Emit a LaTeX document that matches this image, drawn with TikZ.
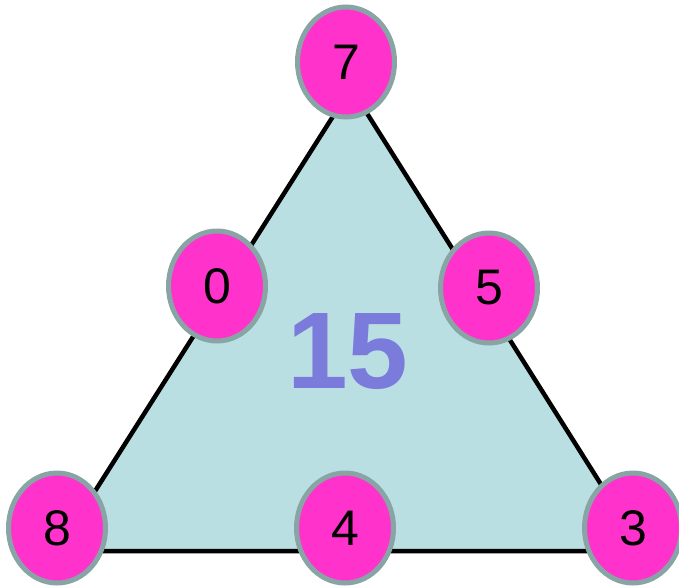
\documentclass[tikz,border=0pt]{standalone}
\usepackage{fontspec}
\setmainfont{Liberation Sans}
\usetikzlibrary{shapes.geometric}

\definecolor{tamgiac}{HTML}{BADFE3}
\definecolor{hong}{HTML}{FF33CC}
\definecolor{vien}{HTML}{88A4A4}
\definecolor{tongso}{HTML}{7B7BDB}

\tikzset{
  so/.style={ellipse, draw=vien, line width=5pt, fill=hong,
    minimum width=97pt, minimum height=110pt, inner sep=0pt,
    font=\fontsize{50}{50}\selectfont},
}

\begin{document}
\begin{tikzpicture}[x=1pt, y=-1pt]
        \useasboundingbox (0,0) rectangle (679,587);

        % --- Ba đỉnh của tam giác ---
        \coordinate (A) at (351,88);
        \coordinate (B) at (57,551);
        \coordinate (C) at (643,551);
        \draw[line width=4.5pt, fill=tamgiac, line join=miter] (A) -- (B) -- (C) -- cycle;

        % --- Tổng ở giữa ---
        \node[tongso, font=\fontsize{109}{109}\selectfont\bfseries] (tong) at (348,352) {15};

        % --- Các số ở đỉnh và trên cạnh ---
        \node[so] (s7) at (346,62) {7};
        \node[so] (s0) at (217,286) {0};
        \node[so] (s5) at (489,288) {5};
        \node[so] (s8) at (57,528) {8};
        \node[so] (s4) at (345,528) {4};
        \node[so] (s3) at (633,528) {3};
\end{tikzpicture}
\end{document}
